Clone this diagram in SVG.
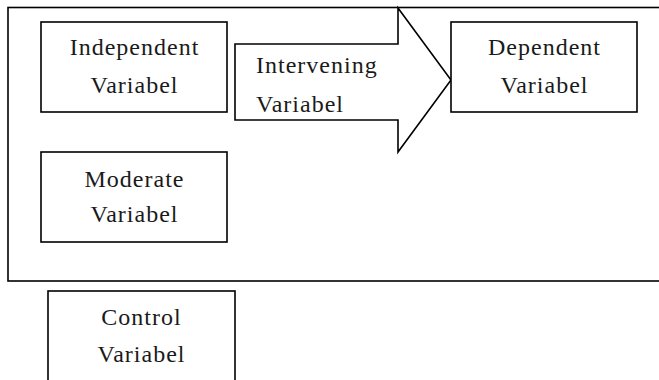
<svg xmlns="http://www.w3.org/2000/svg" width="659" height="380" viewBox="0 0 659 380">
<style>
.box{fill:#fff;stroke:#000;stroke-width:1.6}
.t{font-family:"Liberation Serif","Times New Roman",serif;font-size:24px;fill:#1a1a1a;letter-spacing:1px}
.c{text-anchor:middle}
</style>
<rect width="659" height="380" fill="#fff"/>
<g id="frame"><rect class="box" x="8" y="7.5" width="660" height="273.5"/></g>
<g id="independent">
<rect class="box" x="41" y="22" width="186" height="90"/>
<text class="t c" x="134.5" y="55">Independent</text>
<text class="t c" x="134.5" y="93">Variabel</text>
</g>
<g id="intervening">
<path class="box" d="M235,44 H398 V8 L451,80 L398,152 V120 H235 Z"/>
<text class="t" x="256" y="73">Intervening</text>
<text class="t" x="256" y="112">Variabel</text>
</g>
<g id="dependent">
<rect class="box" x="451" y="22" width="186" height="90"/>
<text class="t c" x="544.5" y="55">Dependent</text>
<text class="t c" x="544.5" y="93">Variabel</text>
</g>
<g id="moderate">
<rect class="box" x="41" y="152" width="186" height="90"/>
<text class="t c" x="134.5" y="187">Moderate</text>
<text class="t c" x="134.5" y="222">Variabel</text>
</g>
<g id="control">
<rect class="box" x="48" y="291" width="187" height="100"/>
<text class="t c" x="141.5" y="325">Control</text>
<text class="t c" x="141.5" y="362">Variabel</text>
</g>
<g id="connectors"></g>
</svg>
